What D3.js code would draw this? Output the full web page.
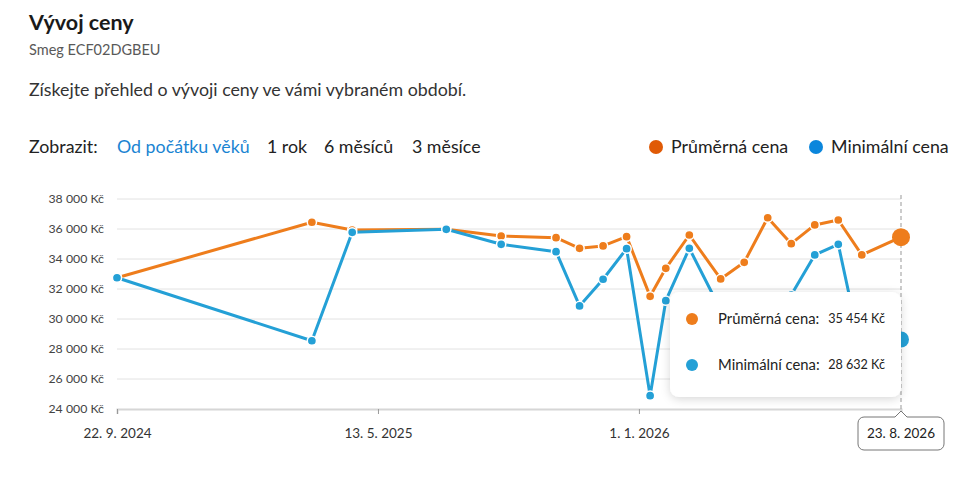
<!DOCTYPE html>
<html>
<head>
<meta charset="utf-8">
<script src="https://cdn.jsdelivr.net/npm/d3@7"></script>
<style>
  body { margin: 0; background: #fff; }
  svg { display: block; font-family: Lato, "Open Sans", sans-serif; }
</style>
</head>
<body>
<div id="chart"></div>
<script>
// price history
const dates = ["2024-09-22", "2025-03-15", "2025-04-20", "2025-07-13", "2025-08-31", "2025-10-19",
     "2025-11-09", "2025-11-30", "2025-12-21", "2026-01-11", "2026-01-25", "2026-02-15",
     "2026-03-15", "2026-04-05", "2026-04-26", "2026-05-17", "2026-06-07", "2026-06-28",
     "2026-07-19", "2026-08-23"];
const avgPrice = [32750, 36450, 35930, 35980, 35530, 35420, 34710, 34870, 35490, 31510, 33380, 35600,
     32670, 33780, 36750, 35020, 36270, 36600, 34270, 35454];
const minPrice = [32750, 28550, 35780, 35980, 34980, 34490, 30870, 32650, 34690, 24890, 31220, 34710,
     30600, 30500, 31000, 31600, 34270, 34980, 27700, 28632];
const xTicks = ["2024-09-22", "2025-05-13", "2026-01-01", "2026-08-23"];
const yTicks = [24000, 26000, 28000, 30000, 32000, 34000, 36000, 38000];
const ranges = ["Od počátku věků", "1 rok", "6 měsíců", "3 měsíce"];
const seriesNames = ["Průměrná cena", "Minimální cena"];

const W = 972, H = 481;
const M = { left: 117, right: 71, top: 199, bottom: 72 };
const ORANGE = '#ee7d1c', BLUE = '#24a0d6';
const LEG_ORANGE = '#e05a06', LEG_BLUE = '#0b86dc';
const BODY = 17.8;

const parse = d3.utcParse('%Y-%m-%d');
const cz = d3.formatLocale({ decimal: ',', thousands: '\u00a0', grouping: [3], currency: ['', '\u00a0Kč'] });
const fmtKc = cz.format('$,.0f');
const fmtDate = d => `${d.getUTCDate()}. ${d.getUTCMonth() + 1}. ${d.getUTCFullYear()}`;

const rows = dates.map((d, i) => ({ date: parse(d), avg: avgPrice[i], min: minPrice[i] }));
const last = rows[rows.length - 1];

const x = d3.scaleUtc().domain([parse(xTicks[0]), parse(xTicks[3])]).range([M.left, W - M.right]);
const y = d3.scaleLinear().domain([24000, 38000]).range([H - M.bottom, M.top]);

const svg = d3.select('#chart').append('svg').attr('width', W).attr('height', H);

const defs = svg.append('defs');
const sh = defs.append('filter').attr('id', 'shadow').attr('x', '-20%').attr('y', '-30%').attr('width', '140%').attr('height', '160%');
sh.append('feDropShadow').attr('dx', 0).attr('dy', 2).attr('stdDeviation', 5).attr('flood-color', '#000').attr('flood-opacity', 0.16);

// header
svg.append('text').attr('x', 29).attr('y', 30).attr('font-size', 21.5).attr('font-weight', 700).attr('fill', '#1a1a1a').text('Vývoj ceny');
svg.append('text').attr('x', 29).attr('y', 55).attr('font-size', 14.5).attr('fill', '#595959').text('Smeg ECF02DGBEU');
svg.append('text').attr('x', 29).attr('y', 96).attr('font-size', BODY).attr('fill', '#333').text('Získejte přehled o vývoji ceny ve vámi vybraném období.');

svg.append('text').attr('x', 29).attr('y', 153).attr('font-size', BODY).attr('fill', '#222').text('Zobrazit:');
const rangeX = [117, 267, 324, 412];
ranges.forEach((r, i) => {
     svg.append('text').attr('x', rangeX[i]).attr('y', 153).attr('font-size', BODY)
          .attr('fill', i === 0 ? '#1a84d2' : '#222').text(r);
});

// legend
const legX = [656, 816];
[LEG_ORANGE, LEG_BLUE].forEach((c, i) => {
     svg.append('circle').attr('cx', legX[i]).attr('cy', 147).attr('r', 7).attr('fill', c);
     svg.append('text').attr('x', legX[i] + 15).attr('y', 153).attr('font-size', BODY).attr('fill', '#222').text(seriesNames[i]);
});

// grid
svg.append('g').selectAll('line').data(yTicks.slice(1)).join('line')
     .attr('x1', M.left).attr('x2', W - M.right)
     .attr('y1', d => y(d)).attr('y2', d => y(d))
     .attr('stroke', '#e2e2e2');

// y axis labels
svg.append('g').selectAll('text').data(yTicks).join('text')
     .attr('x', 104).attr('y', d => y(d)).attr('dy', '0.35em')
     .attr('text-anchor', 'end').attr('font-size', 12.3).attr('fill', '#444')
     .text(d => fmtKc(d));

// x axis
const xAxis = svg.append('g').attr('transform', `translate(0,${y(24000)})`)
     .call(d3.axisBottom(x).tickValues(xTicks.map(parse)).tickSize(5).tickPadding(14).tickFormat(fmtDate));
xAxis.select('.domain').attr('stroke', '#d6d6d6').attr('stroke-width', 2);
xAxis.selectAll('.tick line').attr('stroke', '#999');
xAxis.selectAll('.tick text').attr('font-size', 13.5).attr('fill', '#333').attr('font-family', 'Lato, sans-serif');
xAxis.selectAll('.tick').filter((d, i) => i === xTicks.length - 1).remove();

// hover guide
svg.append('line').attr('x1', x(last.date)).attr('x2', x(last.date))
     .attr('y1', M.top - 4).attr('y2', y(24000))
     .attr('stroke', '#999').attr('stroke-dasharray', '4,3');

// series
const series = [{ key: 'avg', color: ORANGE }, { key: 'min', color: BLUE }];
series.forEach(s => {
     const line = d3.line().x(d => x(d.date)).y(d => y(d[s.key]));
     svg.append('path').datum(rows).attr('d', line)
          .attr('fill', 'none').attr('stroke', s.color).attr('stroke-width', 3).attr('stroke-linejoin', 'round');
     svg.append('g').selectAll('circle').data(rows.slice(0, -1)).join('circle')
          .attr('cx', d => x(d.date)).attr('cy', d => y(d[s.key])).attr('r', 4.6)
          .attr('fill', s.color).attr('stroke', '#fff').attr('stroke-width', 1.5);
});

// active markers
svg.append('circle').attr('cx', x(last.date)).attr('cy', y(last.avg)).attr('r', 9).attr('fill', ORANGE);
svg.append('circle').attr('cx', x(last.date)).attr('cy', y(last.min)).attr('r', 8).attr('fill', BLUE);

// tooltip
const tt = svg.append('g').attr('transform', `translate(${x(last.date) - 231},292)`);
tt.append('rect').attr('width', 231).attr('height', 105).attr('rx', 9)
     .attr('fill', '#fff').attr('filter', 'url(#shadow)');
[{ name: seriesNames[0], v: last.avg, c: ORANGE }, { name: seriesNames[1], v: last.min, c: BLUE }].forEach((r, i) => {
     const cy = 27 + i * 46;
     tt.append('circle').attr('cx', 22).attr('cy', cy).attr('r', 6).attr('fill', r.c);
     tt.append('text').attr('x', 48).attr('y', cy).attr('dy', '0.35em').attr('font-size', 14.8).attr('fill', '#222').text(r.name + ':');
     tt.append('text').attr('x', 215).attr('y', cy).attr('dy', '0.35em').attr('text-anchor', 'end').attr('font-size', 12.6).attr('fill', '#222').text(fmtKc(r.v));
});

// date flag under the axis
const fx = x(last.date), fy = 417;
const fw = 86, fh = 33, rr = 6;
const flag = d3.path();
flag.moveTo(fx - fw / 2 + rr, fy);
flag.lineTo(fx - 6, fy); flag.lineTo(fx, fy - 6); flag.lineTo(fx + 6, fy);
flag.lineTo(fx + fw / 2 - rr, fy);
flag.arcTo(fx + fw / 2, fy, fx + fw / 2, fy + rr, rr);
flag.lineTo(fx + fw / 2, fy + fh - rr);
flag.arcTo(fx + fw / 2, fy + fh, fx + fw / 2 - rr, fy + fh, rr);
flag.lineTo(fx - fw / 2 + rr, fy + fh);
flag.arcTo(fx - fw / 2, fy + fh, fx - fw / 2, fy + fh - rr, rr);
flag.lineTo(fx - fw / 2, fy + rr);
flag.arcTo(fx - fw / 2, fy, fx - fw / 2 + rr, fy, rr);
flag.closePath();
svg.append('path').attr('d', flag.toString()).attr('fill', '#fff').attr('stroke', '#777');
svg.append('text').attr('x', fx).attr('y', fy + fh / 2).attr('dy', '0.35em').attr('text-anchor', 'middle')
     .attr('font-size', 13.5).attr('fill', '#222').text(fmtDate(last.date));
</script>
</body>
</html>
